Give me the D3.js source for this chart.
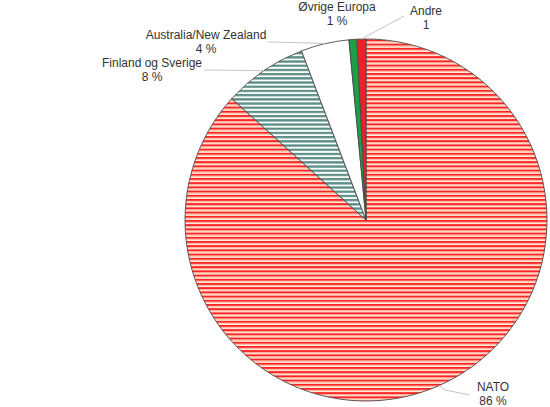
<!DOCTYPE html>
<html>
<head>
<meta charset="utf-8">
<script src="https://cdn.jsdelivr.net/npm/d3@7"></script>
<style>
  body { margin: 0; background: #fff; }
  text { font-family: "Liberation Sans", Arial, sans-serif; font-size: 12px; fill: #333; }
</style>
</head>
<body>
<div id="chart"></div>
<script>
// slices, clockwise from 12 o'clock
var categories = ["NATO", "Finland og Sverige", "Australia/New Zealand", "Øvrige Europa", "Andre"];
var values = [86.7, 7.5, 4.3, 0.7, 0.8];
var valueLabels = ["86 %", "8 %", "4 %", "1 %", "1"];

var width = 550, height = 407;
var cx = 366, cy = 220, radius = 181;

// where each label sits and where its leader line starts
var labelPos = [
    {x: 493, y: 391, lx: 470, ly: 395, bend: [445, 390]},
    {x: 152, y: 67, lx: 204, ly: 70, bend: null},
    {x: 206, y: 39, lx: 268, ly: 42, bend: [312, 43]},
    {x: 337, y: 11, lx: null, ly: null, bend: null},
    {x: 426, y: 15, lx: 404, ly: 16, bend: null}
];

var svg = d3.select("#chart").append("svg")
    .attr("width", width)
    .attr("height", height);

var defs = svg.append("defs");

function stripes(id, rows){
    let p = defs.append("pattern")
        .attr("id", id)
        .attr("patternUnits", "userSpaceOnUse")
        .attr("width", 8)
        .attr("height", 4.2);
    let y = 0;
    rows.forEach(r=>{
        p.append("rect")
            .attr("x", 0).attr("y", y)
            .attr("width", 8).attr("height", r[1])
            .attr("fill", r[0]);
        y += r[1];
    })
}
stripes("nato-fill", [["#ff2222", 2.1], ["#ffb894", 1.1], ["#fff0e6", 1.0]]);
stripes("nordic-fill", [["#5a8e87", 2.4], ["#ffffff", 1.8]]);

var fills = ["url(#nato-fill)", "url(#nordic-fill)", "#ffffff", "#1f9e4a", "#ec2127"];

var pie = d3.pie().sort(null).value(d=>d)(values);
var arc = d3.arc().innerRadius(0).outerRadius(radius);

var g = svg.append("g").attr("transform", `translate(${cx},${cy})`);

g.selectAll("path.slice").data(pie)
    .enter().append("path")
    .attr("class", "slice")
    .attr("d", arc)
    .attr("fill", (d, i)=>fills[i])
    .attr("stroke", "#4a4a4a")
    .attr("stroke-width", 0.9);

// leader lines
pie.forEach((d, i)=>{
    let lp = labelPos[i];
    if(lp.lx === null) return;
    let a = (d.startAngle + d.endAngle) / 2;
    let ex = cx + radius * Math.sin(a);
    let ey = cy - radius * Math.cos(a);
    let pts = [[lp.lx, lp.ly]];
    if(lp.bend) pts.push(lp.bend);
    pts.push([ex, ey]);
    svg.append("path")
        .attr("d", d3.line()(pts))
        .attr("fill", "none")
        .attr("stroke", "#c4c4c4")
        .attr("stroke-width", 1);
})

// labels
categories.forEach((c, i)=>{
    let lp = labelPos[i];
    let t = svg.append("text")
        .attr("x", lp.x)
        .attr("y", lp.y)
        .attr("text-anchor", "middle");
    t.append("tspan").attr("x", lp.x).text(c);
    t.append("tspan").attr("x", lp.x).attr("dy", 14).text(valueLabels[i]);
})
</script>
</body>
</html>
